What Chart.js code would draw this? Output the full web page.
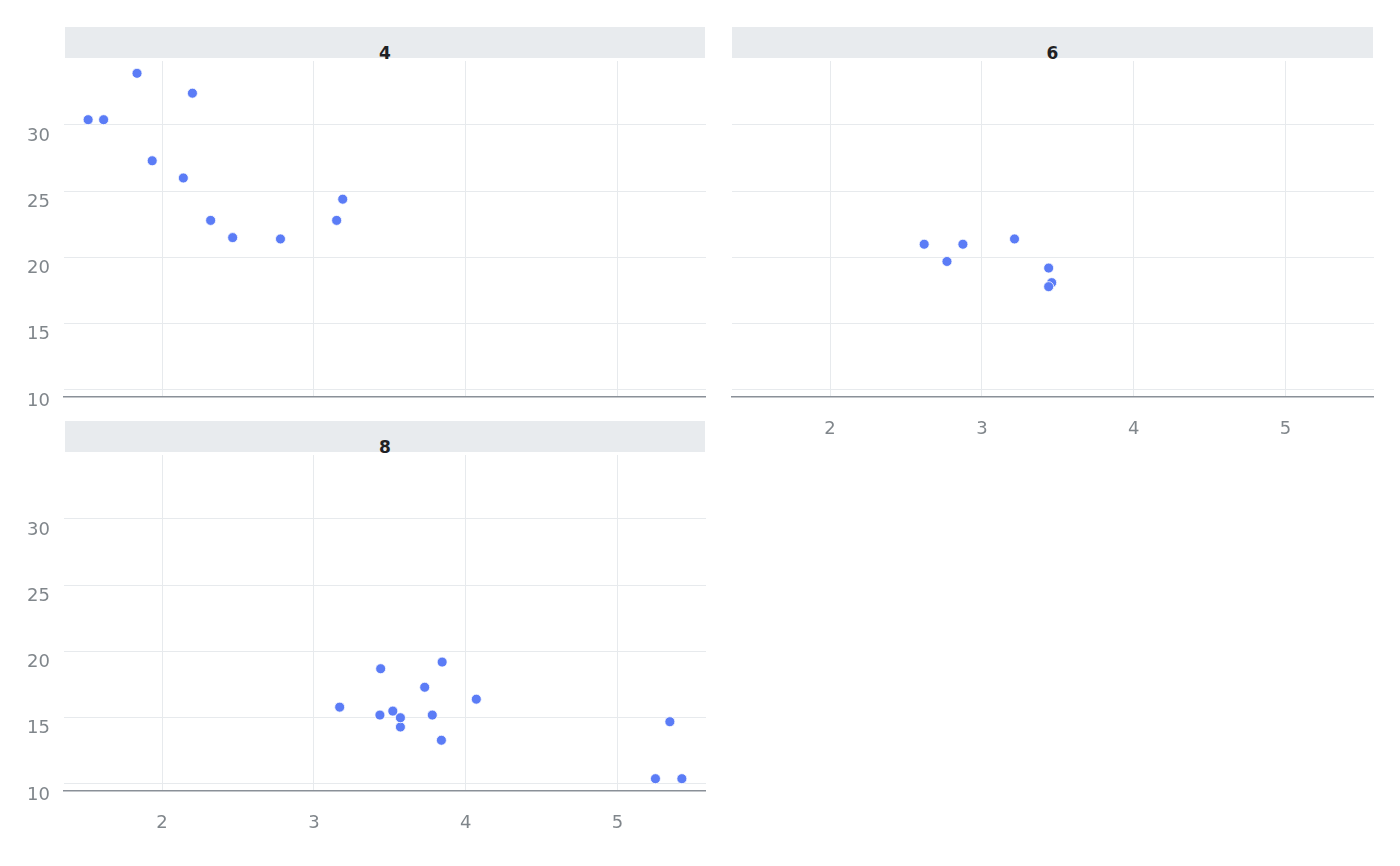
<!DOCTYPE html>
<html>
<head>
<meta charset="utf-8">
<script src="https://cdn.jsdelivr.net/npm/chart.js@4.4.1/dist/chart.umd.min.js"></script>
<style>
  html, body { margin: 0; padding: 0; background: #ffffff; }
  body { width: 1400px; height: 866px; position: relative; overflow: hidden; font-family: "DejaVu Sans", sans-serif; }
  canvas { position: absolute; }
  .strip { position: absolute; background: #e8ebee; height: 31px; }
  .strip span { position: absolute; left: 0; right: 0; text-align: center; top: 18px; font: bold 17px "DejaVu Sans", sans-serif; color: #1f2124; line-height: 17px; }
</style>
</head>
<body>
<div class="strip" style="left:65px; top:27px; width:640px;"><span id="s4"></span></div>
<div class="strip" style="left:732px; top:27px; width:641px;"><span id="s6"></span></div>
<div class="strip" style="left:65px; top:421px; width:640px;"><span id="s8"></span></div>
<canvas id="c4" width="706" height="440" style="left:0px; top:0px;"></canvas>
<canvas id="c6" width="706" height="440" style="left:668px; top:0px;"></canvas>
<canvas id="c8" width="706" height="440" style="left:0px; top:394px;"></canvas>
<script>
// Facet panels (cylinders)
const panels = ["4", "6", "8"];
// Weight (1000 lbs) and MPG for each panel
const wt4  = [2.320, 3.190, 3.150, 2.200, 1.615, 1.835, 2.465, 1.935, 2.140, 1.513, 2.780];
const mpg4 = [22.8, 24.4, 22.8, 32.4, 30.4, 33.9, 21.5, 27.3, 26.0, 30.4, 21.4];
const wt6  = [2.620, 2.875, 3.215, 3.460, 3.440, 3.440, 2.770];
const mpg6 = [21.0, 21.0, 21.4, 18.1, 19.2, 17.8, 19.7];
const wt8  = [3.440, 3.570, 4.070, 3.730, 3.780, 5.250, 5.424, 5.345, 3.520, 3.435, 3.840, 3.845, 3.170, 3.570];
const mpg8 = [18.7, 14.3, 16.4, 17.3, 15.2, 10.4, 10.4, 14.7, 15.5, 15.2, 13.3, 19.2, 15.8, 15.0];
// Tick labels
const xTicks = [2, 3, 4, 5];
const yTicks = [10, 15, 20, 25, 30];
const xRange = [1.354, 5.583];
const yRange = [9.47, 34.83];

const tickColor = '#80868b';
const gridColor = '#e7eaed';
const axisColor = '#8a9098';
const pointColor = '#5b7cf6';

function makeChart(id, wts, mpgs, showX, showY) {
  const data = wts.map((w, i) => ({ x: w, y: mpgs[i] }));
  return new Chart(document.getElementById(id), {
    type: 'scatter',
    data: { datasets: [{ data: data, backgroundColor: pointColor, borderColor: '#ffffff', borderWidth: 0.8, pointRadius: 5, pointHoverRadius: 5 }] },
    options: {
      responsive: false,
      animation: false,
      events: [],
      layout: { autoPadding: false, padding: { top: 61, left: 0, right: 0, bottom: 0 } },
      plugins: { legend: { display: false }, tooltip: { enabled: false }, title: { display: false } },
      scales: {
        x: {
          type: 'linear', min: xRange[0], max: xRange[1],
          afterBuildTicks: s => { s.ticks = xTicks.map(v => ({ value: v })); },
          afterFit: s => { s.height = 43; },
          grid: { color: gridColor, lineWidth: 1, drawTicks: false },
          border: { display: true, color: axisColor, width: 1.5 },
          ticks: { display: showX, color: tickColor, padding: 22, font: { family: 'DejaVu Sans', size: 18 }, maxRotation: 0 }
        },
        y: {
          type: 'linear', min: yRange[0], max: yRange[1],
          afterBuildTicks: s => { s.ticks = yTicks.map(v => ({ value: v })); },
          afterFit: s => { s.width = 64; },
          grid: { color: gridColor, lineWidth: 1, drawTicks: false },
          border: { display: false },
          ticks: { display: showY, color: tickColor, padding: 14, labelOffset: 11, font: { family: 'DejaVu Sans', size: 18 } }
        }
      }
    }
  });
}

document.getElementById('s4').textContent = panels[0];
document.getElementById('s6').textContent = panels[1];
document.getElementById('s8').textContent = panels[2];
makeChart('c4', wt4, mpg4, false, true);
makeChart('c6', wt6, mpg6, true, false);
makeChart('c8', wt8, mpg8, true, true);
</script>
</body>
</html>
